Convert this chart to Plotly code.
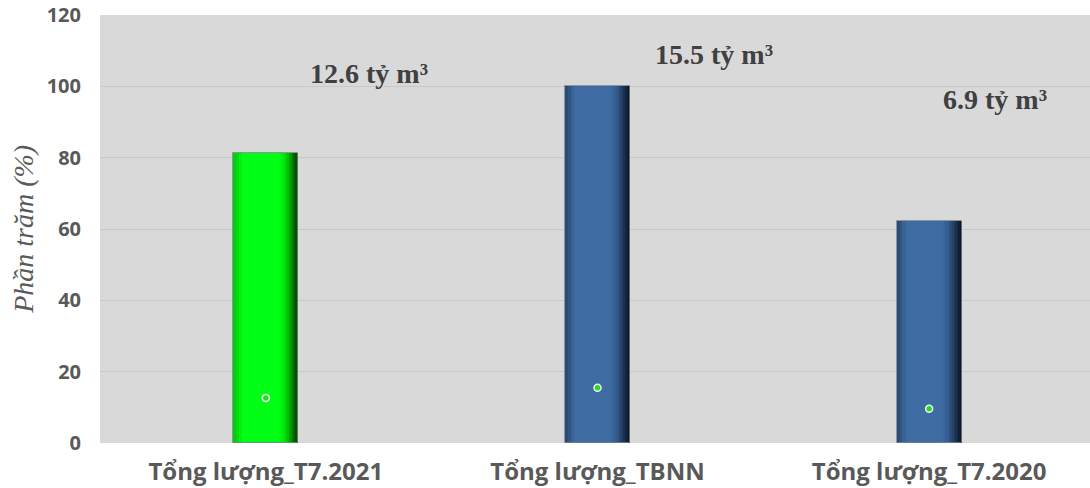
import plotly.graph_objects as go

categories = ["Tổng lượng_T7.2021", "Tổng lượng_TBNN", "Tổng lượng_T7.2020"]
percent = [81.3, 100, 62.2]
volume_points = [12.6, 15.5, 9.6]
volume_labels = ["12.6 tỷ m³", "15.5 tỷ m³", "6.9 tỷ m³"]
label_x = [0.31, 1.35, 2.2]
label_y = [103.7, 108.8, 96.2]

xs = [0, 1, 2]
W = 0.196

green_stops = [(0, 58, 0), (0, 150, 0), (0, 230, 10), (0, 255, 20)]
blue_stops = [(12, 22, 38), (32, 58, 92), (52, 92, 142), (62, 108, 162)]
left_green = (0, 200, 15)
left_blue = (40, 70, 110)


def lerp_stops(stops, t):
    n = len(stops) - 1
    pos = t * n
    i = min(int(pos), n - 1)
    f = pos - i
    a, b = stops[i], stops[i + 1]
    return "rgb(%d,%d,%d)" % tuple(round(a[k] + (b[k] - a[k]) * f) for k in range(3))


fig = go.Figure()
steps = 12
for s in range(steps + 1):
    frac = 1.0 - 0.30 * s / steps
    t = s / steps
    cols = [lerp_stops(green_stops, t), lerp_stops(blue_stops, t), lerp_stops(blue_stops, t)]
    fig.add_trace(go.Bar(
        x=xs, y=percent, width=W * frac, offset=-W / 2,
        marker=dict(color=cols, line=dict(width=0)),
        hoverinfo="skip", showlegend=False,
    ))
for s, frac in enumerate([0.14, 0.09, 0.05]):
    op = 0.25 + 0.2 * s
    fig.add_trace(go.Bar(
        x=xs, y=percent, width=W * frac, offset=-W / 2,
        marker=dict(color=["rgb(%d,%d,%d)" % left_green, "rgb(%d,%d,%d)" % left_blue,
                           "rgb(%d,%d,%d)" % left_blue], opacity=op, line=dict(width=0)),
        hoverinfo="skip", showlegend=False,
    ))
fig.add_trace(go.Bar(
    x=xs, y=percent, width=W, offset=-W / 2,
    marker=dict(color="rgba(0,0,0,0)", line=dict(width=1, color="rgba(120,130,140,0.8)")),
    hoverinfo="skip", showlegend=False,
))

fig.add_trace(go.Scatter(
    x=xs, y=volume_points, mode="markers",
    marker=dict(size=7, color="#22dd22", line=dict(width=1.5, color="#f2f2f2")),
    showlegend=False, hoverinfo="skip",
))

for t, ax, ay in zip(volume_labels, label_x, label_y):
    fig.add_annotation(x=ax, y=ay, xref="x", yref="y", text="<b>" + t + "</b>",
                       showarrow=False,
                       font=dict(family="Liberation Serif", size=28, color="#404040"))

fig.add_annotation(x=-0.078, y=0.5, xref="paper", yref="paper",
                   xanchor="center", yanchor="middle",
                   text="<i>Phần trăm (%)</i>", textangle=-90, showarrow=False,
                   font=dict(family="Liberation Serif", size=28, color="#595959"))

fig.update_layout(
    width=1090, height=488,
    margin=dict(l=100, r=0, t=15, b=45),
    paper_bgcolor="white", plot_bgcolor="#d9d9d9",
    barmode="overlay", bargap=0,
    font=dict(family="Open Sans", color="#595959"),
)
fig.update_xaxes(
    tickvals=xs, ticktext=["<b>" + c + "</b>" for c in categories],
    range=[-0.5, 2.485], showgrid=False, zeroline=False, showline=False,
    tickfont=dict(family="Open Sans", size=24, color="#595959"),
    ticks="", ticklabelstandoff=12,
)
fig.update_yaxes(
    range=[0, 120], dtick=20, showgrid=True, gridcolor="#c8c8c8", gridwidth=1,
    zeroline=False, showline=False, ticks="",
    tickfont=dict(family="Open Sans", size=20, color="#595959"),
    tickprefix="<b>", ticksuffix="</b>", ticklabelstandoff=18,
    ticklabeloverflow="allow",
)

fig.write_html("out.html", config={"displayModeBar": False},
               post_script="document.body.style.margin='0';")
